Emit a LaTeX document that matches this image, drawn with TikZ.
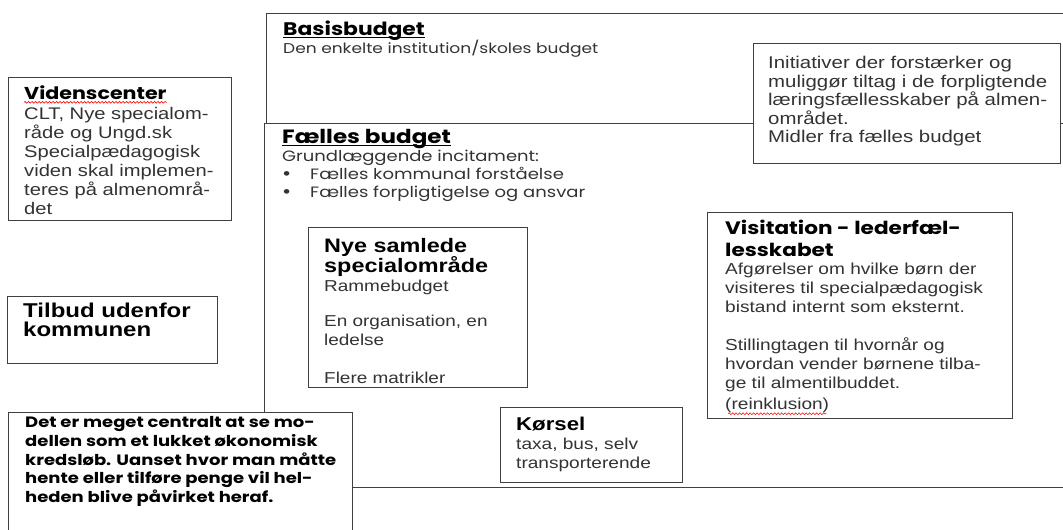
\documentclass[tikz,border=0pt]{standalone}
\usepackage{fontspec}
\usetikzlibrary{positioning,decorations.pathmorphing}
\newfontfamily\arialfont[FakeStretch=1.2]{Liberation Sans}
\newfontfamily\gothicfont[FakeStretch=1.2]{Poppins}
\newcommand\blt{\hspace*{1pt}\makebox[27pt][l]{\arialfont\fontsize{17}{17}\selectfont\textbullet}}
\newcommand\headul[1]{\setbox0\hbox{#1}\rlap{\rule[-2.5pt]{\wd0}{1.2pt}}\box0}

\begin{document}
\begin{tikzpicture}[x=1pt,y=-1pt,
		frame/.style={draw=black!75,line width=1.1pt,fill=white,anchor=north west,inner sep=0pt},
		txt/.style={anchor=north west,inner sep=0pt,align=left,text=black!80},
		arialbody/.style={txt,font=\arialfont\fontsize{16}{19}\selectfont},
		gothicbody/.style={txt,font=\gothicfont\fontsize{14.5}{18}\selectfont},
		gothichead/.style={txt,text=black,font=\gothicfont\bfseries\fontsize{18}{22}\selectfont},
		spelling/.style={red,line width=0.6pt,decorate,decoration={snake,amplitude=0.9pt,segment length=3.5pt}}]
		\useasboundingbox (0,0) rectangle (1063,530);

		% the frames
		\node[frame,minimum width=820pt,minimum height=110pt]	(basis)		at (266,13)		{};
		\node[frame,minimum width=820pt,minimum height=364pt]	(faelles)	at (264,123)	{};
		\node[frame,minimum width=307pt,minimum height=120pt]	(initiativ)	at (753,43)		{};
		\node[frame,minimum width=223pt,minimum height=143pt]	(viden)		at (8,77)		{};
		\node[frame,minimum width=210pt,minimum height=67pt]	(tilbud)	at (7,296)		{};
		\node[frame,minimum width=344pt,minimum height=150pt]	(central)	at (8,412)		{};
		\node[frame,minimum width=219pt,minimum height=160pt]	(special)	at (308,227)	{};
		\node[frame,minimum width=305pt,minimum height=206pt]	(visitation)	at (707,212)	{};
		\node[frame,minimum width=182pt,minimum height=75pt]	(koersel)	at (500,407)	{};

		% the texts
		\node[gothicbody,font=\gothicfont\fontsize{14.2}{18}\selectfont,below right=8pt and 17pt of basis.north west]	(basistxt)
			{{\bfseries\fontsize{18.2}{18}\selectfont\color{black}\headul{Basisbudget}}\\[-2pt]Den enkelte institution/skoles budget};
		\node[gothicbody,font=\gothicfont\fontsize{15}{18}\selectfont,below right=6pt and 18pt of faelles.north west]	(faellestxt)
			{{\bfseries\fontsize{19.2}{18}\selectfont\color{black}\headul{Fælles budget}}\\Grundlæggende incitament:\\
			\blt Fælles kommunal forståelse\\\blt Fælles forpligtigelse og ansvar};
		\node[arialbody,font=\arialfont\fontsize{17}{18.6}\selectfont,below right=13pt and 15pt of initiativ.north west]	(initiativtxt)
			{Initiativer der forstærker og\\muliggør tiltag i de forpligtende\\læringsfællesskaber på almen-\\området.\\Midler fra fælles budget};
		\node[gothichead,font=\gothicfont\bfseries\fontsize{17.2}{22}\selectfont,below right=9pt and 16pt of viden.north west]	(videnhead)	{Videnscenter};
		\node[arialbody,font=\arialfont\fontsize{16.8}{19}\selectfont,below right=30pt and 16pt of viden.north west]	(videntxt)
			{CLT, Nye specialom-\\råde og Ungd.sk\\Specialpædagogisk\\viden skal implemen-\\teres på almenområ-\\det};
		\node[txt,text=black,font=\arialfont\bfseries\fontsize{20}{19}\selectfont,below right=7pt and 16pt of tilbud.north west]	(tilbudtxt)
			{Tilbud udenfor\\kommunen};
		\node[txt,text=black,font=\gothicfont\bfseries\fontsize{15}{18.6}\selectfont,below right=4.5pt and 17pt of central.north west]	(centraltxt)
			{Det er meget centralt at se mo-\\dellen som et lukket økonomisk\\kredsløb. Uanset hvor man måtte\\
			hente eller tilføre penge vil hel-\\heden blive påvirket heraf.};
		\node[arialbody,font=\arialfont\fontsize{15.8}{19}\selectfont,below right=11pt and 16pt of special.north west]	(specialtxt)
			{{\bfseries\fontsize{19.5}{18}\selectfont\color{black}Nye samlede}\\[-1pt]{\bfseries\fontsize{19.5}{18}\selectfont\color{black}specialområde}\\
			Rammebudget\\[16pt]En organisation, en\\ledelse\\[19pt]Flere matrikler};
		\node[gothichead,font=\gothicfont\bfseries\fontsize{18}{22}\selectfont,below right=7.5pt and 18pt of visitation.north west]	(visitationhead)
			{Visitation - lederfæl-\\lesskabet};
		\node[arialbody,font=\arialfont\fontsize{15.9}{19}\selectfont,below right=50.6pt and 18pt of visitation.north west]	(visitationtxt)
			{Afgørelser om hvilke børn der\\visiteres til specialpædagogisk\\bistand internt som eksternt.\\[19pt]
			Stillingtagen til hvornår og\\hvordan vender børnene tilba-\\ge til almentilbuddet.};
		\node[arialbody,font=\arialfont\fontsize{15.9}{19}\selectfont,below right=185.5pt and 18pt of visitation.north west]	(reinklusion)
			{(reinklusion)};
		\node[arialbody,font=\arialfont\fontsize{15.9}{19}\selectfont,below right=10pt and 16pt of koersel.north west]	(koerseltxt)
			{{\bfseries\fontsize{18.5}{19}\selectfont\color{black}Kørsel}\\taxa, bus, selv\\transporterende};

		% spelling marks
		\draw[spelling] ([yshift=-2pt]videnhead.south west) -- ([yshift=-2pt]videnhead.south east);
		\draw[spelling] ([yshift=-1pt,xshift=3pt]reinklusion.south west) -- ([yshift=-1pt,xshift=-3pt]reinklusion.south east);
	\end{tikzpicture}
\end{document}
